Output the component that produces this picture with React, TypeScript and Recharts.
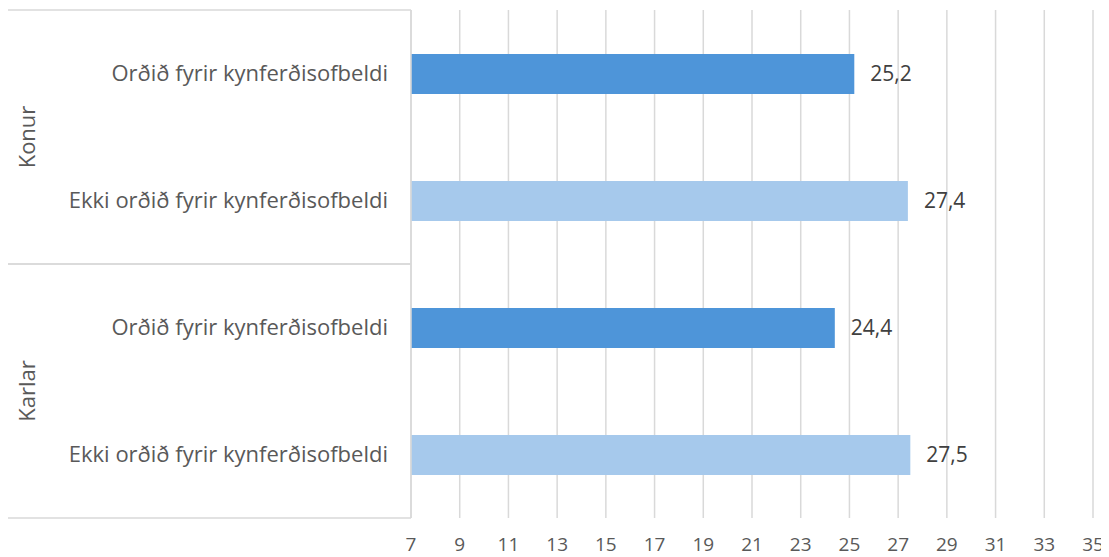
import React from 'react';
import { BarChart, Bar, XAxis, YAxis, CartesianGrid, Cell, LabelList } from 'recharts';

// Survey results grouped by sex, split by experience of sexual violence
const groups = ['Konur', 'Konur', 'Karlar', 'Karlar'];
const categories = [
  'Orðið fyrir kynferðisofbeldi',
  'Ekki orðið fyrir kynferðisofbeldi',
  'Orðið fyrir kynferðisofbeldi',
  'Ekki orðið fyrir kynferðisofbeldi',
];
const values = [25.2, 27.4, 24.4, 27.5];
const xTicks = [7, 9, 11, 13, 15, 17, 19, 21, 23, 25, 27, 29, 31, 33, 35];

const barColors = ['#4e95d9', '#a6c9ec', '#4e95d9', '#a6c9ec'];

const data = categories.map((label, i) => ({
  id: i,
  label,
  group: groups[i],
  value: values[i],
}));

const WIDTH = 1101;
const HEIGHT = 549;
const MARGIN = { top: 2, right: 16, left: 0, bottom: 0 };
const GROUP_AXIS_W = 40;
const CAT_AXIS_W = 363;
const X_AXIS_H = 39;
const GRID = '#d9d9d9';
const FONT = '"Open Sans", sans-serif';

const CategoryTick = (props: any) => {
  const { x, y, payload } = props;
  return (
    <text
      x={x}
      y={y}
      dy="0.35em"
      textAnchor="end"
      fill="#595959"
      fontSize={22}
      fontFamily={FONT}
    >
      {categories[payload.index] ?? payload.value}
    </text>
  );
};

const GroupTick = (props: any) => {
  const { y, payload } = props;
  const plotH = HEIGHT - MARGIN.top - MARGIN.bottom - X_AXIS_H;
  const half = payload.offset ?? plotH / new Set(groups).size / 2;
  const left = MARGIN.left;
  const right = MARGIN.left + GROUP_AXIS_W + CAT_AXIS_W;
  const cx = left + 19;
  return (
    <g>
      <line x1={left} x2={right} y1={y - half} y2={y - half} stroke={GRID} strokeWidth={1.5} />
      <line x1={left} x2={right} y1={y + half} y2={y + half} stroke={GRID} strokeWidth={1.5} />
      <text
        x={cx}
        y={y}
        dy="0.35em"
        textAnchor="middle"
        transform={`rotate(-90, ${cx}, ${y})`}
        fill="#595959"
        fontSize={22}
        fontFamily={FONT}
      >
        {payload.value}
      </text>
    </g>
  );
};

const XTick = (props: any) => {
  const { x, y, payload } = props;
  return (
    <text
      x={x}
      y={y}
      dy="0.35em"
      textAnchor="middle"
      fill="#595959"
      fontSize={19}
      fontFamily={FONT}
    >
      {payload.value}
    </text>
  );
};

export default function App() {
  return (
    <BarChart
      width={WIDTH}
      height={HEIGHT}
      data={data}
      layout="vertical"
      margin={MARGIN}
      barSize={40}
    >
      <CartesianGrid horizontal={false} stroke={GRID} strokeWidth={1.5} />
      <XAxis
        type="number"
        domain={[7, 35]}
        ticks={xTicks}
        interval={0}
        axisLine={false}
        tickLine={false}
        tickMargin={20}
        height={X_AXIS_H}
        tick={<XTick />}
      />
      <YAxis
        type="category"
        dataKey="id"
        width={CAT_AXIS_W}
        axisLine={{ stroke: GRID, strokeWidth: 1.5 }}
        tickLine={false}
        tickMargin={17}
        tick={<CategoryTick />}
      />
      <YAxis
        yAxisId="group"
        type="category"
        dataKey="group"
        allowDuplicatedCategory={false}
        width={GROUP_AXIS_W}
        axisLine={false}
        tickLine={false}
        tick={<GroupTick />}
      />
      <Bar dataKey="value" isAnimationActive={false}>
        {data.map((d, i) => (
          <Cell key={d.id} fill={barColors[i]} />
        ))}
        <LabelList
          dataKey="value"
          position="right"
          offset={16}
          formatter={(v: any) => String(v).replace('.', ',')}
          fill="#404040"
          fontSize={21}
          fontFamily={FONT}
        />
      </Bar>
    </BarChart>
  );
}
